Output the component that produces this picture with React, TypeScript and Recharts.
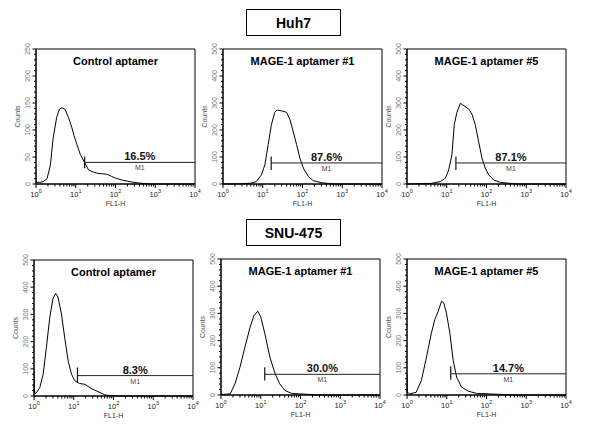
import React from 'react';
import { ComposedChart, Line, XAxis, YAxis, ReferenceLine, ReferenceArea, Label } from 'recharts';

// FL1-H channel values and event counts
const HUH7_CTRL_FL = [1, 1.05, 1.2, 1.5, 1.9, 2.3, 2.7, 3.3, 3.9, 4.5, 5.4, 6.6, 8, 9, 10.7, 13, 16, 21, 28, 35, 45, 62, 80, 100, 150, 290, 500, 800, 10000];
const HUH7_CTRL_COUNTS = [8, 3, 3, 4, 10, 35, 85, 123, 139, 141, 138, 123, 104, 90, 73, 55, 42, 26, 22, 20, 19, 18, 14, 11, 7, 3, 1, 0, 0];

const HUH7_A1_FL = [1, 3, 5, 6.9, 9.3, 11.3, 13.7, 16.6, 20, 23, 30, 40, 48, 58, 71, 86, 105, 141, 188, 300, 500, 800, 10000];
const HUH7_A1_COUNTS = [0, 1, 3, 9, 34, 71, 146, 221, 265, 274, 271, 265, 240, 196, 146, 96, 59, 27, 12, 5, 1, 0, 0];

const HUH7_A5_FL = [1, 4, 6.9, 9.2, 11.2, 13.5, 15.5, 18, 22, 27, 36, 43, 52, 63, 77, 93, 113, 151, 223, 480, 800, 10000];
const HUH7_A5_COUNTS = [0, 2, 9, 21, 52, 109, 221, 265, 299, 290, 277, 259, 221, 159, 96, 59, 34, 15, 6, 1, 0, 0];

const SNU_CTRL_FL = [1, 1.02, 1.05, 1.15, 1.4, 1.7, 2.05, 2.5, 3.0, 3.5, 4.0, 4.9, 5.9, 7.2, 8.8, 10.6, 14, 19, 28, 41, 61, 90, 120, 10000];
const SNU_CTRL_COUNTS = [93, 30, 8, 12, 31, 80, 179, 290, 358, 377, 364, 302, 216, 130, 80, 56, 46, 43, 27, 16, 4, 1, 0, 0];

const SNU_A1_FL = [1, 1.7, 2.25, 3, 4, 5.4, 6.8, 8.4, 10, 12.7, 17, 23, 30, 41, 60, 97, 173, 300, 10000];
const SNU_A1_COUNTS = [2, 4, 41, 102, 176, 250, 293, 308, 287, 225, 139, 78, 41, 16, 6, 4, 2, 0, 0];

const SNU_A5_FL = [1, 1.02, 1.17, 1.7, 2.3, 3.1, 4.1, 5, 6.1, 7.4, 8.4, 9.8, 12, 14.5, 17.7, 23.5, 35, 56, 122, 320, 600, 10000];
const SNU_A5_COUNTS = [78, 10, 4, 10, 53, 140, 227, 277, 308, 345, 339, 302, 227, 128, 66, 29, 14, 6, 4, 1, 0, 0];

// M1 gate: start channel, level, tick span, percentage
const GATE_START = [16.7, 16.3, 17, 12.4, 12.6, 12.6];
const GATE_LEVEL = [40, 78, 78, 75, 76, 78];
const GATE_TICK_LOW = [29, 52, 52, 49, 53, 56];
const GATE_TICK_HIGH = [51, 102, 102, 105, 102, 106];
const GATE_PERCENT = ['16.5%', '87.6%', '87.1%', '8.3%', '30.0%', '14.7%'];

const PANEL_TITLES = ['Control aptamer', 'MAGE-1 aptamer #1', 'MAGE-1 aptamer #5', 'Control aptamer', 'MAGE-1 aptamer #1', 'MAGE-1 aptamer #5'];
const ROW_TITLES = ['Huh7', 'SNU-475'];

const MAJOR_TICKS = [1, 10, 100, 1000, 10000];
const MINOR_MULTIPLES = [2, 3, 4, 5, 6, 7, 8, 9];

const X_TICKS = MAJOR_TICKS.flatMap((d) => (d < 10000 ? [d, ...MINOR_MULTIPLES.map((m) => m * d)] : [d]));

const PLOT_W = 159;
const Y_AXIS_W = 36;
const X_AXIS_H = 30;
const TOP_PAD = 12;

function XTick(props: any) {
  const { x, y, payload } = props;
  const lg = Math.log10(payload.value);
  const exp = Math.round(lg);
  const major = Math.abs(lg - exp) < 1e-6;
  return (
    <g>
      <line x1={x} x2={x} y1={y} y2={y + (major ? 4 : 2.5)} stroke="#000" strokeWidth={1} />
      {major && (
        <text x={x} y={y + 12.5} textAnchor="middle" fontSize={7.5} fill="#222">
          10
          <tspan dy={-3.5} fontSize={5.5}>
            {exp}
          </tspan>
        </text>
      )}
    </g>
  );
}

function YTick(props: any) {
  const { x, y, payload, labelStep } = props;
  const major = payload.value % labelStep === 0;
  return (
    <g>
      <line x1={x} x2={x - (major ? 3.5 : 2)} y1={y} y2={y} stroke="#000" strokeWidth={1} />
      {major && (
        <text
          transform={`translate(${x - 8.5},${y}) rotate(-90)`}
          textAnchor="middle"
          dominantBaseline="central"
          fontSize={7}
          fill="#777"
        >
          {payload.value}
        </text>
      )}
    </g>
  );
}

interface PanelProps {
  idx: number;
  fl: number[];
  counts: number[];
  yMax: number;
  left: number;
  top: number;
  plotH: number;
}

function Histogram({ idx, fl, counts, yMax, left, top, plotH }: PanelProps) {
  const data = fl.map((v, i) => ({ fl: v, count: counts[i] }));
  const labelStep = yMax === 250 ? 50 : 100;
  const minorStep = yMax === 250 ? 10 : 20;
  const yTicks: number[] = [];
  for (let t = 0; t <= yMax; t += minorStep) yTicks.push(t);

  return (
    <div style={{ position: 'absolute', left: left - Y_AXIS_W, top: top - TOP_PAD }}>
      <ComposedChart
        width={Y_AXIS_W + PLOT_W + 8}
        height={TOP_PAD + plotH + X_AXIS_H}
        data={data}
        margin={{ top: TOP_PAD, right: 8, left: 0, bottom: 0 }}
      >
        <XAxis
          dataKey="fl"
          type="number"
          scale="log"
          domain={[1, 10000]}
          allowDataOverflow
          ticks={X_TICKS}
          interval={0}
          height={X_AXIS_H}
          tickSize={0}
          tickMargin={0}
          tickLine={false}
          axisLine={{ stroke: '#000' }}
          tick={<XTick />}
        >
          <Label value="FL1-H" position="insideBottom" offset={8} fontSize={7} fill="#333" />
        </XAxis>
        <YAxis
          type="number"
          domain={[0, yMax]}
          ticks={yTicks}
          interval={0}
          width={Y_AXIS_W}
          tickSize={0}
          tickMargin={0}
          tickLine={false}
          axisLine={{ stroke: '#000' }}
          tick={<YTick labelStep={labelStep} />}
        >
          <Label value="Counts" angle={-90} position="center" fontSize={7} fill="#555" />
        </YAxis>
        <ReferenceArea x1={1} x2={10000} y1={0} y2={yMax} fill="none" stroke="#000" strokeWidth={1} ifOverflow="visible">
          <Label
            value={PANEL_TITLES[idx]}
            position="insideTop"
            offset={8}
            fontSize={11}
            fontWeight="bold"
            fill="#000"
          />
        </ReferenceArea>
        <Line
          type="linear"
          dataKey="count"
          stroke="#000"
          strokeWidth={1}
          dot={false}
          isAnimationActive={false}
        />
        <ReferenceLine
          segment={[
            { x: GATE_START[idx], y: GATE_TICK_LOW[idx] },
            { x: GATE_START[idx], y: GATE_TICK_HIGH[idx] },
          ]}
          stroke="#111"
          strokeWidth={1.2}
          ifOverflow="visible"
        />
        <ReferenceLine
          segment={[
            { x: GATE_START[idx], y: GATE_LEVEL[idx] },
            { x: 10000, y: GATE_LEVEL[idx] },
          ]}
          stroke="#222"
          strokeWidth={1}
          ifOverflow="visible"
        >
          <Label value={GATE_PERCENT[idx]} position="top" offset={2} fontSize={11} fontWeight="bold" fill="#111" />
          <Label value="M1" position="bottom" offset={3} fontSize={7} fill="#444" />
        </ReferenceLine>
      </ComposedChart>
    </div>
  );
}

function RowTitle({ text, top }: { text: string; top: number }) {
  return (
    <div
      style={{
        position: 'absolute',
        left: 246,
        top,
        width: 95,
        height: 27,
        boxSizing: 'border-box',
        border: '1.5px solid #000',
        display: 'flex',
        alignItems: 'center',
        justifyContent: 'center',
        fontWeight: 'bold',
        fontSize: 14,
      }}
    >
      {text}
    </div>
  );
}

export default function App() {
  return (
    <div
      style={{
        position: 'absolute',
        left: 0,
        top: 0,
        width: 606,
        height: 426,
        background: '#fff',
        fontFamily: '"Liberation Sans", Arial, sans-serif',
        overflow: 'hidden',
      }}
    >
      <RowTitle text={ROW_TITLES[0]} top={9} />
      <RowTitle text={ROW_TITLES[1]} top={219} />
      <Histogram idx={0} fl={HUH7_CTRL_FL} counts={HUH7_CTRL_COUNTS} yMax={250} left={36} top={49} plotH={135} />
      <Histogram idx={1} fl={HUH7_A1_FL} counts={HUH7_A1_COUNTS} yMax={500} left={223} top={49} plotH={135} />
      <Histogram idx={2} fl={HUH7_A5_FL} counts={HUH7_A5_COUNTS} yMax={500} left={407} top={49} plotH={135} />
      <Histogram idx={3} fl={SNU_CTRL_FL} counts={SNU_CTRL_COUNTS} yMax={500} left={34} top={260} plotH={136} />
      <Histogram idx={4} fl={SNU_A1_FL} counts={SNU_A1_COUNTS} yMax={500} left={221} top={259} plotH={136} />
      <Histogram idx={5} fl={SNU_A5_FL} counts={SNU_A5_COUNTS} yMax={500} left={407} top={259} plotH={136} />
    </div>
  );
}
